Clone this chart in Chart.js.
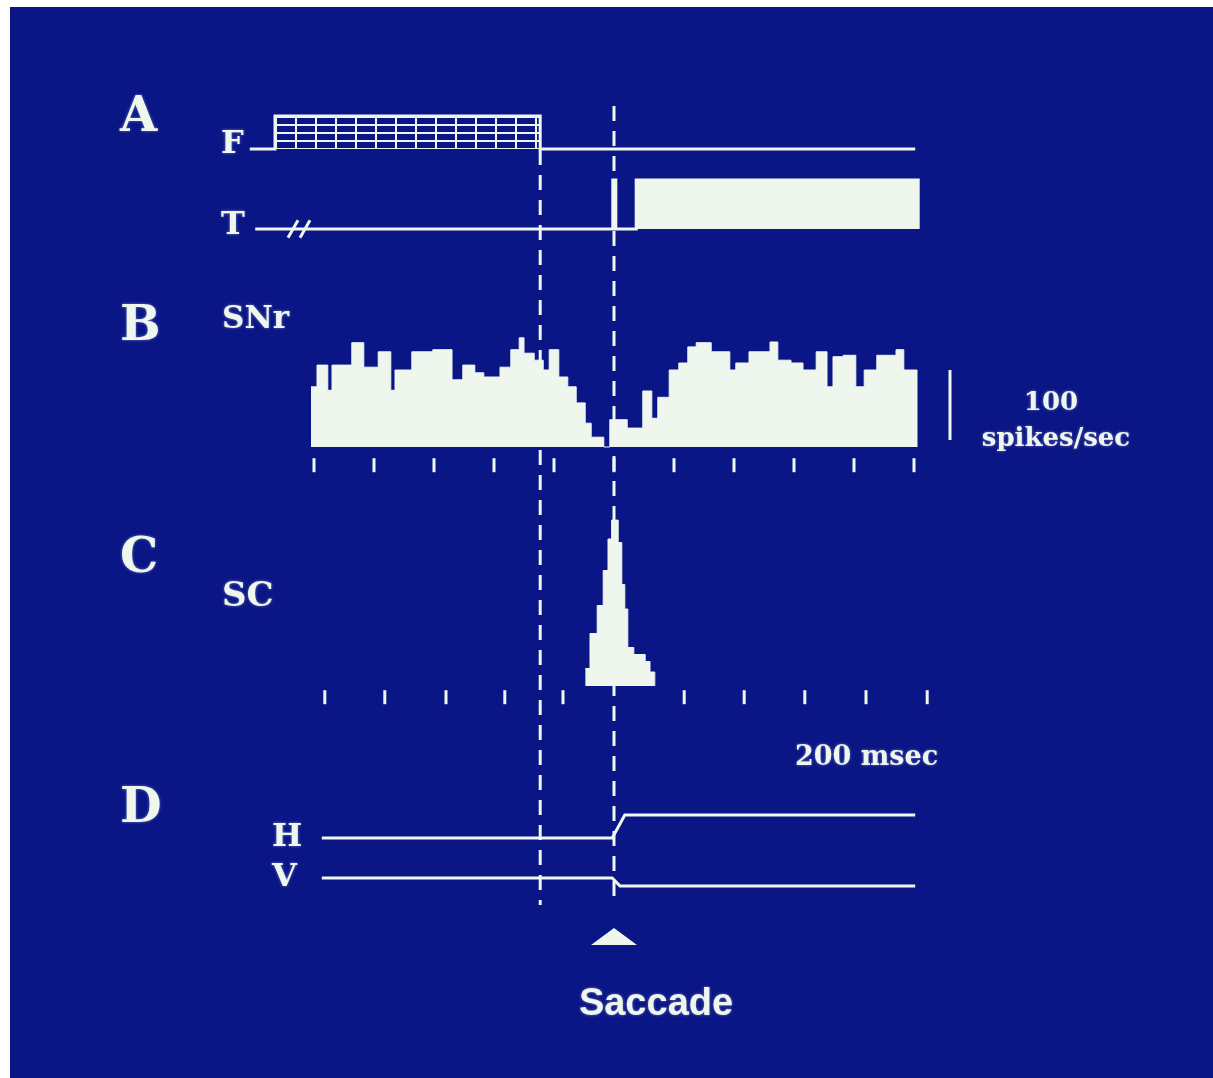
<!DOCTYPE html>
<html lang="en">
<head>
<meta charset="UTF-8">
<title>SNr and SC activity around a saccade</title>
<style>
  body { margin: 0; background: #ffffff; }
  .slide { position: absolute; left: 10px; top: 7px; width: 1203px; height: 1071px; background: #0b1686; }
  #fig { position: absolute; left: 0; top: 0; }
</style>
</head>
<body>
<div class="slide"></div>
<canvas id="fig" width="1213" height="1078"></canvas>

<script src="https://cdn.jsdelivr.net/npm/chart.js"></script>
<script>
// all times in msec, saccade onset = 0
const eventTimes = [-123, 0];            // fixation point off, saccade onset

// A: fixation point (F) and target (T), 0 = off, 1 = on
const fixTimes = [-607, -565, -123, 502];
const fixState = [0, 1, 0, 0];
const targetTimes = [-598, -2, 3, 37, 507, 507];
const targetState = [0, 1, 0, 1, 1, 0];
const targetBreak = [-535, -515];

// B: SNr histogram, bin start (msec) and rate (spikes/sec)
const snrBinStart = [-505, -495, -477, -470, -437, -417, -393, -372, -365, -337, -302, -270, -252, -232, -217,
  -190, -172, -158, -150, -133, -118, -108, -92, -77, -63, -48, -38, -17, -7, 22, 48, 63, 73, 92, 108,
  123, 137, 162, 193, 203, 225, 260, 273, 295, 315, 337, 355, 365, 382, 403, 417, 438, 470, 483];
const snrRate = [86, 117, 81, 117, 149, 114, 136, 81, 110, 136, 139, 96, 117, 106, 100,
  114, 139, 156, 134, 124, 110, 139, 100, 86, 63, 34, 14, 0, 39, 27, 80, 41, 71, 110, 120,
  143, 149, 136, 110, 120, 136, 150, 124, 120, 110, 136, 86, 129, 131, 86, 110, 131, 139, 110];
const snrEnd = 505;

// C: SC histogram
const scBinStart = [-48, -40, -28, -18, -10, -4, 7, 13, 18, 23, 33, 52, 60];
const scRate = [25, 75, 115, 165, 210, 237, 205, 145, 110, 55, 45, 35, 20];
const scEnd = 68;

// time ticks under B and C
const bTicks = [-500, -400, -300, -200, -100, 0, 100, 200, 300, 400, 500];
const cTicks = [-482, -382, -280, -182, -85, 117, 217, 318, 420, 522];

// D: eye position (deg)
const hTimes = [-487, -3, 18, 502];
const hPos = [0, 0, 10, 10];
const vTimes = [-487, -3, 10, 502];
const vPos = [0, 0, -3.5, -3.5];

// ---- layout ----
const W = 1213, H = 1078;
const SACC_PX = 614, PX_PER_MS = 0.6;
const INK = '#eef6ee';

function band(zeroPx, pxPerUnit) {
  return { type: 'linear', display: false, min: -(H - zeroPx) / pxPerUnit, max: zeroPx / pxPerUnit };
}
const pts = (xs, ys) => xs.map((x, i) => ({ x: x, y: ys[i] }));
const hist = (starts, vals, end) => pts(starts, vals).concat([{ x: end, y: 0 }]);

// grid pattern for the fixation-on box
const cell = document.createElement('canvas');
cell.width = 20; cell.height = 8;
const cctx = cell.getContext('2d');
cctx.fillStyle = INK;
cctx.fillRect(0, 0, 20, 2);
cctx.fillRect(0, 0, 2, 8);
const gridPattern = document.getElementById('fig').getContext('2d').createPattern(cell, 'repeat');
gridPattern.setTransform(new DOMMatrix().translate(275, 116));

const traceStyle = { borderColor: INK, borderWidth: 3, pointRadius: 0, stepped: true };
const tickStyle = { showLine: false, pointStyle: 'line', rotation: 90, pointRadius: 7, borderColor: INK, borderWidth: 3 };

const figurePlugin = {
  id: 'figure',
  afterDatasetsDraw(chart) {
    const ctx = chart.ctx;
    const x = chart.scales.x;
    ctx.save();
    ctx.strokeStyle = INK;
    ctx.fillStyle = INK;

    // dashed event lines
    ctx.lineWidth = 3;
    ctx.setLineDash([15, 10]);
    const tops = [150, 106];
    eventTimes.forEach((t, i) => {
      const px = x.getPixelForValue(t);
      ctx.beginPath();
      ctx.moveTo(px, tops[i]);
      ctx.lineTo(px, 905);
      ctx.stroke();
    });
    ctx.setLineDash([]);

    // saccade marker
    const sx = x.getPixelForValue(0);
    ctx.beginPath();
    ctx.moveTo(sx, 928);
    ctx.lineTo(sx + 23, 945);
    ctx.lineTo(sx - 23, 945);
    ctx.closePath();
    ctx.fill();

    // 100 spikes/sec bar
    const ys = chart.scales.ySNr;
    ctx.lineWidth = 3;
    ctx.beginPath();
    ctx.moveTo(950, ys.getPixelForValue(10));
    ctx.lineTo(950, ys.getPixelForValue(110));
    ctx.stroke();

    // text
    ctx.shadowColor = 'rgba(230,240,255,0.45)';
    ctx.shadowBlur = 3;
    ctx.textBaseline = 'alphabetic';
    const serif = s => 'bold ' + s + 'px "DejaVu Serif"';
    ctx.font = serif(48);
    [['A', 131], ['B', 340], ['C', 572], ['D', 822]].forEach(([s, y]) => ctx.fillText(s, 120, y));
    ctx.font = serif(32);
    ctx.fillText('F', 221, 153);
    ctx.fillText('T', 221, 234);
    ctx.fillText('H', 272, 846);
    ctx.fillText('V', 272, 886);
    ctx.font = serif(31);
    ctx.fillText('SNr', 222, 328);
    ctx.font = serif(34);
    ctx.fillText('SC', 222, 606);
    ctx.font = serif(26);
    ctx.textAlign = 'center';
    ctx.fillText('100', 1051, 410);
    ctx.fillText('spikes/sec', 1056, 446);
    ctx.textAlign = 'left';
    ctx.font = serif(27);
    ctx.fillText('200 msec', 795, 765);
    ctx.font = 'bold 38px "Liberation Sans"';
    ctx.textAlign = 'center';
    ctx.fillText('Saccade', 656, 1015);
    ctx.restore();
  }
};

new Chart(document.getElementById('fig'), {
  type: 'line',
  data: {
    datasets: [
      Object.assign({ data: pts(fixTimes, fixState), yAxisID: 'yF', fill: 'origin', backgroundColor: gridPattern }, traceStyle),
      Object.assign({ data: pts(targetTimes, targetState), yAxisID: 'yT', fill: 'origin', backgroundColor: INK }, traceStyle),
      { data: targetBreak.map(t => ({ x: t, y: 0 })), yAxisID: 'yT', showLine: false, pointStyle: 'line',
        rotation: -60, pointRadius: 10, borderColor: INK, borderWidth: 3 },
      Object.assign({ data: hist(snrBinStart, snrRate, snrEnd), yAxisID: 'ySNr', fill: 'origin', backgroundColor: INK }, traceStyle, { borderWidth: 1 }),
      Object.assign({ data: hist(scBinStart, scRate, scEnd), yAxisID: 'ySC', fill: 'origin', backgroundColor: INK }, traceStyle, { borderWidth: 1 }),
      Object.assign({ data: bTicks.map(t => ({ x: t, y: -26 })), yAxisID: 'ySNr' }, tickStyle),
      Object.assign({ data: cTicks.map(t => ({ x: t, y: -16 })), yAxisID: 'ySC' }, tickStyle),
      { data: pts(hTimes, hPos), yAxisID: 'yH', borderColor: INK, borderWidth: 3, pointRadius: 0 },
      { data: pts(vTimes, vPos), yAxisID: 'yV', borderColor: INK, borderWidth: 3, pointRadius: 0 }
    ]
  },
  options: {
    responsive: false,
    animation: false,
    devicePixelRatio: 1,
    layout: { padding: 0, autoPadding: false },
    plugins: { legend: { display: false }, tooltip: { enabled: false } },
    elements: { line: { tension: 0 } },
    scales: {
      x: { type: 'linear', display: false, min: -SACC_PX / PX_PER_MS, max: (W - SACC_PX) / PX_PER_MS },
      yF: band(149, 33),
      yT: band(229, 49),
      ySNr: band(447, 0.7),
      ySC: band(686, 0.7),
      yH: band(838, 2.3),
      yV: band(878, 2.3)
    }
  },
  plugins: [figurePlugin]
});
</script>
</body>
</html>
